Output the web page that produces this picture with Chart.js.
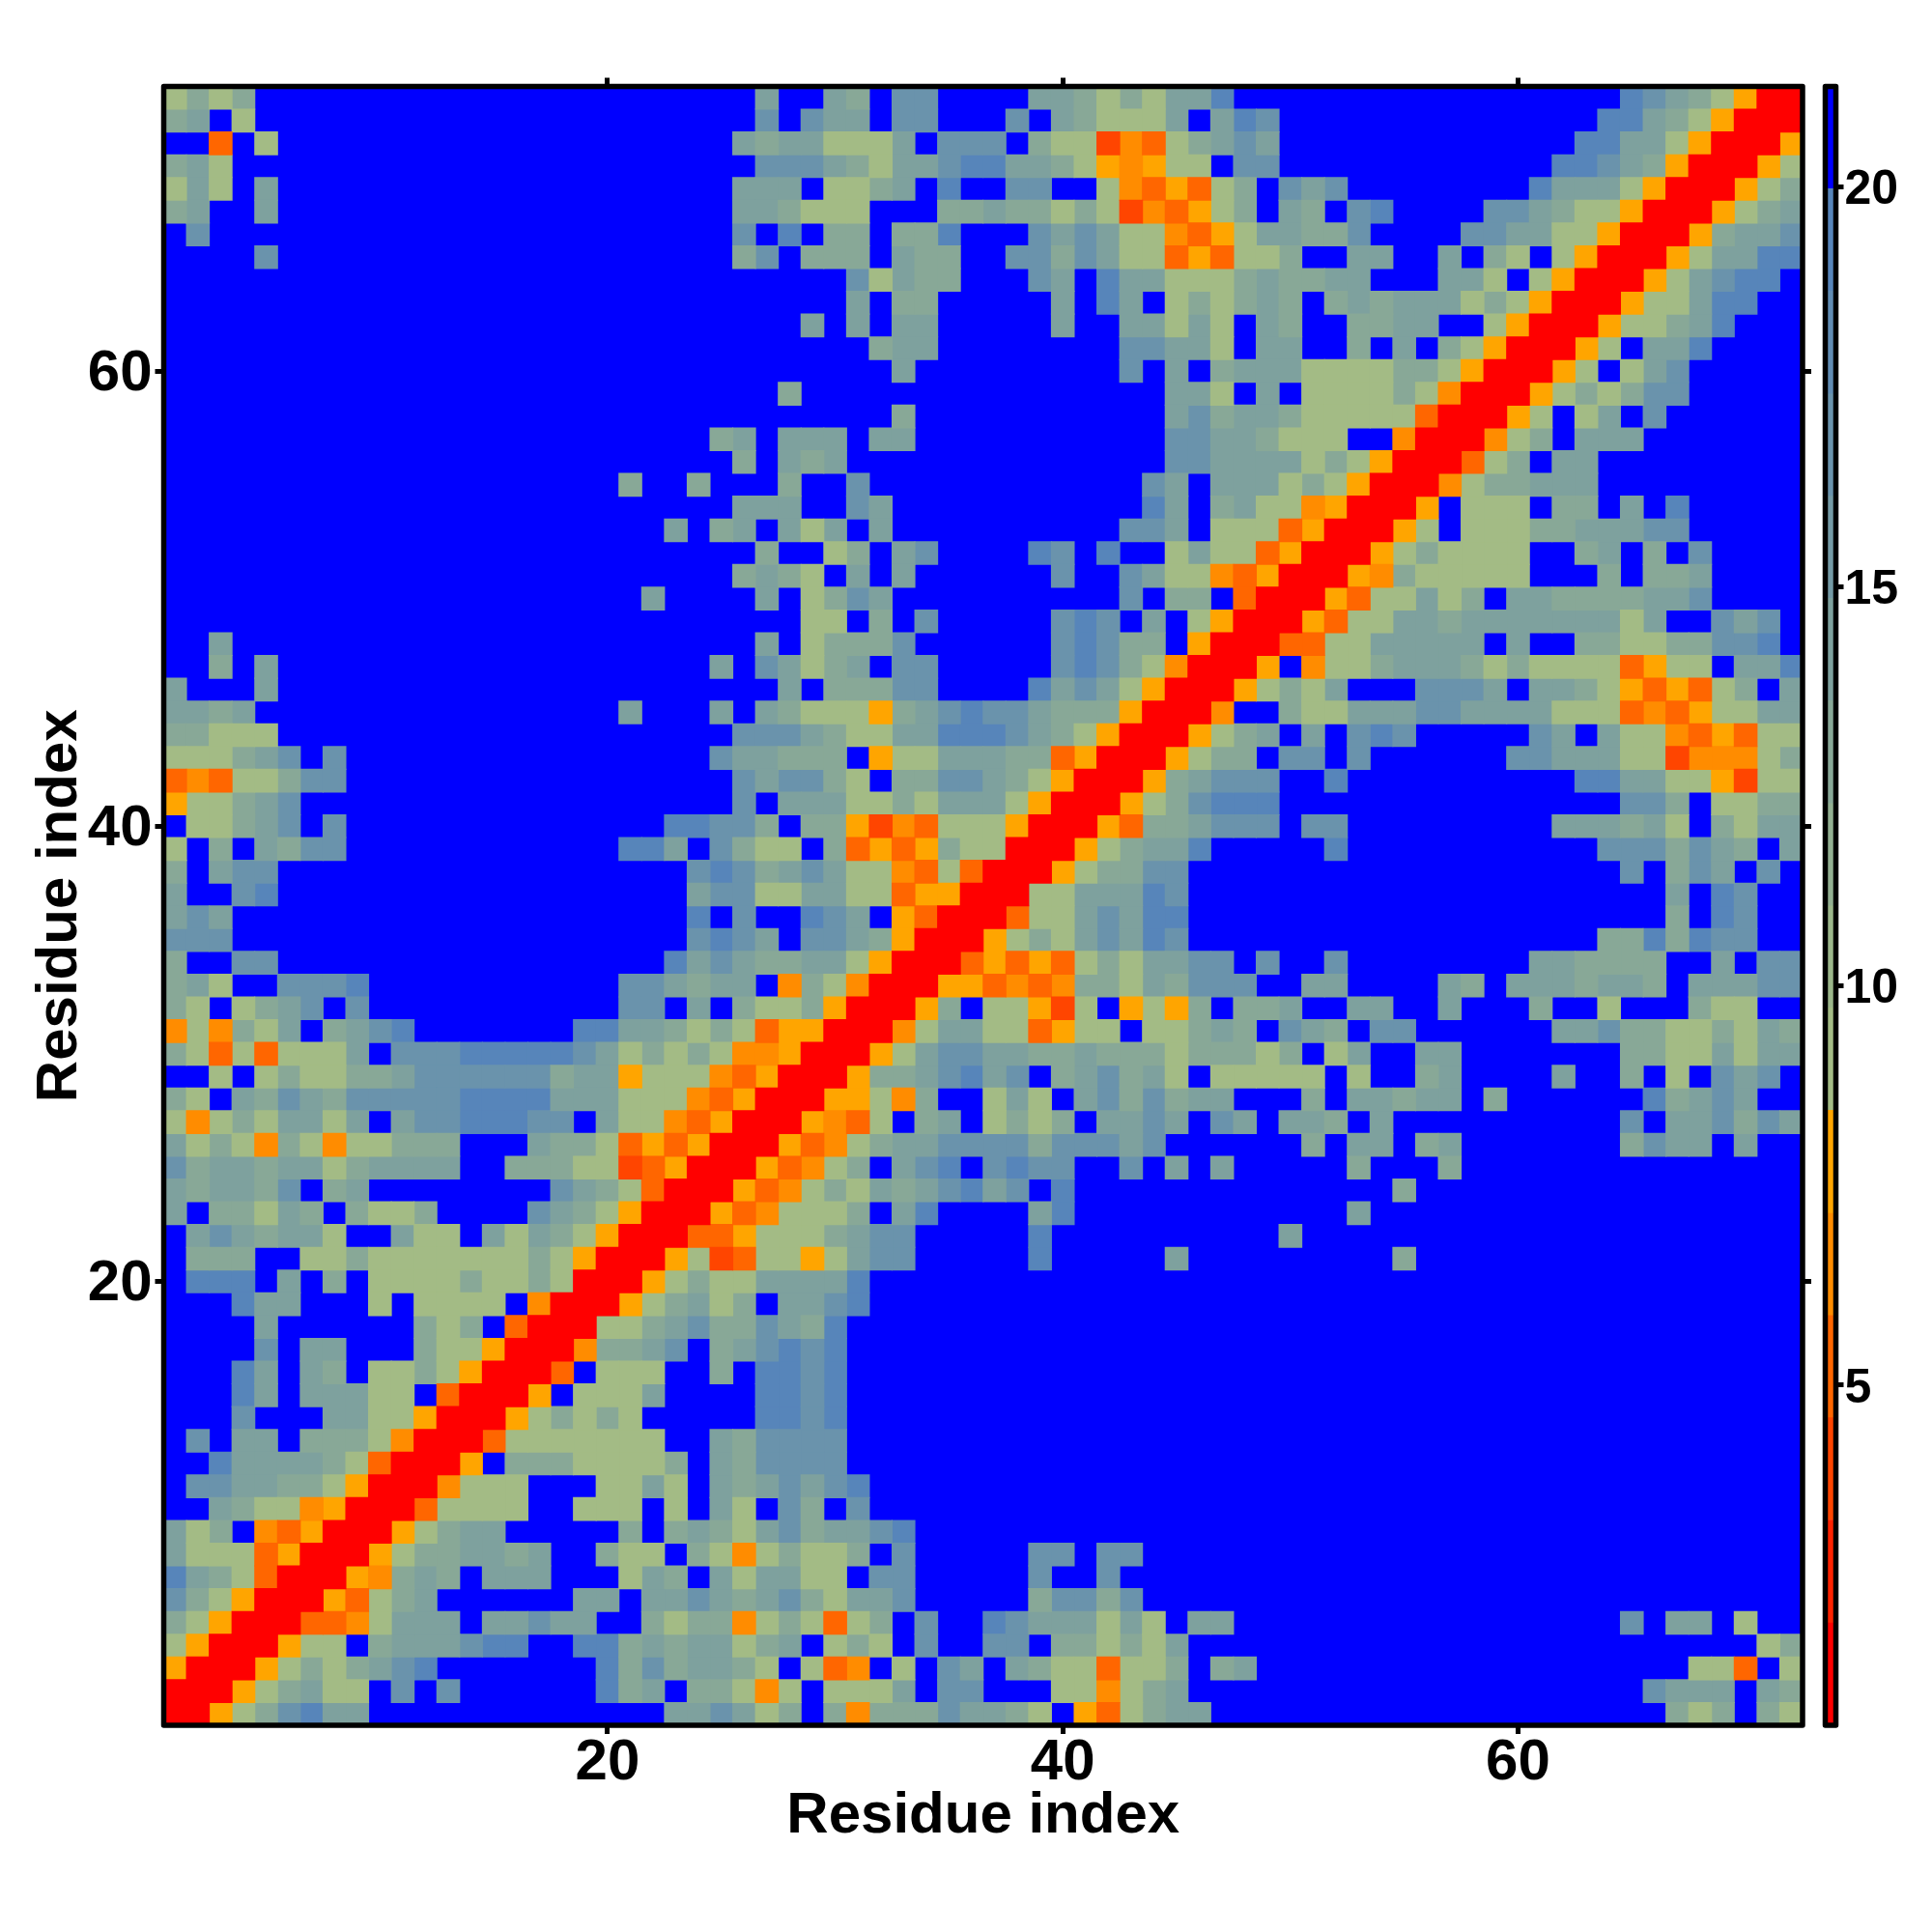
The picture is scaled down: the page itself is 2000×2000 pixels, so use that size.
<!DOCTYPE html>
<html>
<head>
<meta charset="utf-8">
<style>
html,body{margin:0;padding:0;background:#fff}
#wrap{position:relative;width:2000px;height:2000px}
canvas{position:absolute;top:0}
</style>
<script src="https://cdn.jsdelivr.net/npm/chart.js@4/dist/chart.umd.js"></script>
</head>
<body>
<div id="wrap">
<canvas id="map" width="2000" height="2000" style="left:0"></canvas>
<canvas id="bar" width="130" height="2000" style="left:1870px"></canvas>
</div>
<script>
// Distance map. It is symmetric, so only one triangle is stored:
// entry r holds row y = 72 - r, from x = 1 up to the diagonal.
const triangleRows = [
"545400000000000000000000"+"003003402200003345453310"+"000000000000000012345YRR",
"430500000000000000000000"+"002023302200020345553031"+"20000000000000011345YRR",
"00E050000000000000000000"+"034335553022204 55DOE5432"+"3000000000000011335YRR",
"435000000000000000000000"+"002223453321133 45YOY5502"+"200000000000011234YRR",
"535030000000000000000000"+"033305543010022005OEYE54"+"0232000000001333 5YRR",
"430030000000000000000000"+"033455500044344545DOEY54"+"0340210000223455YRR",
"020000000000000000000000"+"020104404410002323 55OEY5"+"334420000223355YRR",
"000020000000000000000000"+"042044403440022423 55EYE5"+"54003300304505YRR",
"000000000000000000000000"+"000000253440002301335554"+"3443300033505YRR",
"000000000000000000000000"+"000000304400000301305454"+"340434333545YRR",
"000000000000000000000000"+"000030303300000300335350"+"34004433005YRR",
"000000000000000000000000"+"000000043300000000223350"+"3300403045YRR",
"000000000000000000000000"+"000000003000000000203043"+"335555445YRR",
"000000000000000000000000"+"000400000000000000003350"+"30555545ORR",
"000000000000000000000000"+"000000004000000000003243"+"3455555ERR",
"000000000000000000000000"+"430333033000000000002233"+"455500ORR",
"000000000000000000000000"+"040343000000000000002233"+"33545YRR",
"000000000000000000004004"+"000400200000000000023033"+"3545YRR",
"000000000000000000000000"+"033300230000000000013043"+"55OYRR",
"000000000000000000000030"+"430353030000000000223055"+"5EYRR",
"000000000000000000000000"+"004005403200001201005355"+"EYRR",
"000000000000000000000000"+"0434503030000002002355OE"+"YRR",
"000000000000000000000300"+"003054230000000000 20440E"+"RR",
"000000000000000000000000"+"000055040200000212 0305YR"+"R",
"003000000000000000000000"+"003054442000000212440YRR",
"004030000000000000000000"+"302354302200000212 45ORR",
"300030000000000000000000"+"0003044422000013235YRR",
"334300000000000000003000"+"303455 5Y4321223444YRR",
"445550000000000000000000"+"02223455331112345YRR",
"555432020000000000000000"+"2334440Y5533344EYRR",
"EOE554220000000000000000"+"023224504422345YRR",
"Y55432000000000000000000"+"02033355453335YRR",
"055432020000000000000011"+"224044YDOE555YRR",
"504034220000000000001130"+"245504EYEY455RR",
"403220000000000000000002"+"12432355OE5ERR",
"300210000000000000000003"+"22553355EYYRR",
"323000000000000000000001"+"02001230YERR",
"222000000000000000000002"+"12302234YRR",
"400220000000000000000013"+"2344335YRR",
"435002221000000000002234"+"330O45ORR",
"450543202000000000002203"+"04554YRR",
"O5O45304321000000011 3345"+"45EYYRR",
"45E5E555302221111123 5454"+"5OOYRR",
"00505455443222222433Y555"+"OEYRR",
"4503423422 2221111333555O"+"EYRR",
"5O5453353032211122 0355OE"+"YRR",
"3545O45O554440003445EYEY"+"RR",
"2433433543333004445 5DEYR"+"R",
"343342043000000002345ERR",
"30445340455400002345YRR",
"0323433500355035345YRR",
"044400554555555545YRR",
"011103040555545545RR",
"0001330005055550ORR",
"000030000004540ERR",
"00002033000455YRR",
"0001303405545YRR",
"000130333550ERR",
"00020003355YRR",
"0203304445ORR",
"001333345ERR",
"02233445YRR",
"003455OYRR",
"3540OEYRR",
"3555EYRR",
"1345ERR",
"245YRR",
"45YRR",
"5YRR",
"YRR",
"RR",
"R"
];
const codeValues = {"0":20.7,"1":19.3,"2":17,"3":14.5,"4":13,"5":9,"Y":7.8,"O":6.5,"E":5.2,"D":4,"R":1.5};
const levelBreaks = [0.74,2.02,3.31,4.59,5.87,7.15,8.44,9.72,11.0,12.28,13.57,14.85,16.13,17.41,18.7,19.98,21.26];
const levelColors = ["#ff0000","#ff2200","#ff4500","#ff6600","#ff8c00","#ffa500","#a3bb85","#9bb68a","#92af91","#88a897","#7ea19e","#749aa5","#6a93ac","#618cb3","#5785ba","#0000ff"];
const axisTicks = [20,40,60];
const barTicks = [5,10,15,20];
const axisTitle = "Residue index";
const AXIS_MIN = 0.5, AXIS_MAX = 72.5;
const FONT = "'Liberation Sans', Arial, sans-serif";

function levelOf(v){
  for(let k=0;k<levelColors.length;k++){ if(v<levelBreaks[k+1]) return k; }
  return levelColors.length-1;
}
const AREA = {left:169.5,right:1866,top:89.5,bottom:1786};
const cellSide = (AREA.right-AREA.left)/72 + 1.05;

const buckets = levelColors.map(()=>[]);
triangleRows.forEach((raw,r)=>{
  const row = raw.replace(/ /g,"");
  const y = 72-r;
  for(let c=0;c<row.length;c++){
    const v = codeValues[row[c]];
    const x = c+1;
    buckets[levelOf(v)].push({x:x,y:y});
    if(x!==y) buckets[levelOf(v)].push({x:y,y:x});
  }
});

const frame = {id:"frame",afterDraw(chart){
  const a = chart.chartArea, g = chart.ctx;
  g.save();
  g.lineWidth = 5.5; g.lineJoin = "round"; g.strokeStyle = "#000";
  g.strokeRect(a.left,a.top,a.right-a.left,a.bottom-a.top);
  g.restore();
}};

function axis(position,size,extra){
  const o = {
    type:"linear",position:position,min:AXIS_MIN,max:AXIS_MAX,
    border:{display:false},
    grid:{drawOnChartArea:false,drawTicks:true,tickLength:9,tickWidth:5,tickColor:"#000"},
    ticks:{display:false,autoSkip:false,maxRotation:0,minRotation:0},
    afterBuildTicks:s=>{s.ticks = axisTicks.map(v=>({value:v}));},
    afterFit:s=>{ if(position==="left"||position==="right") s.width=size; else s.height=size; }
  };
  return Object.assign(o,extra||{});
}
const labelTicks = (pad,off)=>({display:true,color:"#000",padding:pad,labelOffset:off,autoSkip:false,maxRotation:0,minRotation:0,font:{family:FONT,weight:"bold",size:60}});
const titleOpts = (pad)=>({display:true,text:axisTitle,color:"#000",font:{family:FONT,weight:"bold",size:60},padding:pad});

new Chart(document.getElementById("map"),{
  type:"scatter",
  plugins:[frame],
  data:{datasets:buckets.map((pts,k)=>({
    label:"level "+k,data:pts,showLine:false,
    pointStyle:"rect",pointRadius:cellSide/Math.SQRT2,pointBorderWidth:0,
    pointBackgroundColor:levelColors[k],pointHoverRadius:cellSide/Math.SQRT2
  }))},
  options:{
    responsive:false,animation:false,events:[],
    layout:{padding:0},
    plugins:{legend:{display:false},tooltip:{enabled:false},title:{display:false}},
    scales:{
      x:axis("bottom",2000-AREA.bottom,{ticks:labelTicks(-6,0),title:titleOpts({top:0,bottom:84})}),
      y:axis("left",AREA.left,{ticks:labelTicks(3,3),title:titleOpts({top:26,bottom:0})}),
      x2:axis("top",AREA.top),
      y2:axis("right",2000-AREA.right)
    }
  }
});

new Chart(document.getElementById("bar"),{
  type:"bar",
  plugins:[frame],
  data:{labels:["distance"],datasets:levelColors.map((col,k)=>({
    label:"level "+k,data:[[levelBreaks[k],levelBreaks[k+1]]],backgroundColor:col,borderWidth:0,
    grouped:false,barPercentage:1,categoryPercentage:1
  }))},
  options:{
    responsive:false,animation:false,events:[],
    layout:{padding:{left:19.5,top:AREA.top,bottom:2000-AREA.bottom,right:0}},
    plugins:{legend:{display:false},tooltip:{enabled:false}},
    scales:{
      x:{display:false},
      y:{
        position:"right",min:levelBreaks[0],max:levelBreaks[levelBreaks.length-1],
        border:{display:false},
        grid:{drawOnChartArea:false,drawTicks:true,tickLength:8,tickWidth:5,tickColor:"#000"},
        ticks:{color:"#000",padding:1,labelOffset:4,autoSkip:false,font:{family:FONT,weight:"bold",size:50}},
        afterBuildTicks:s=>{s.ticks = barTicks.map(v=>({value:v}));},
        afterFit:s=>{s.width = 130-30.5;}
      }
    }
  }
});
</script>
</body>
</html>
